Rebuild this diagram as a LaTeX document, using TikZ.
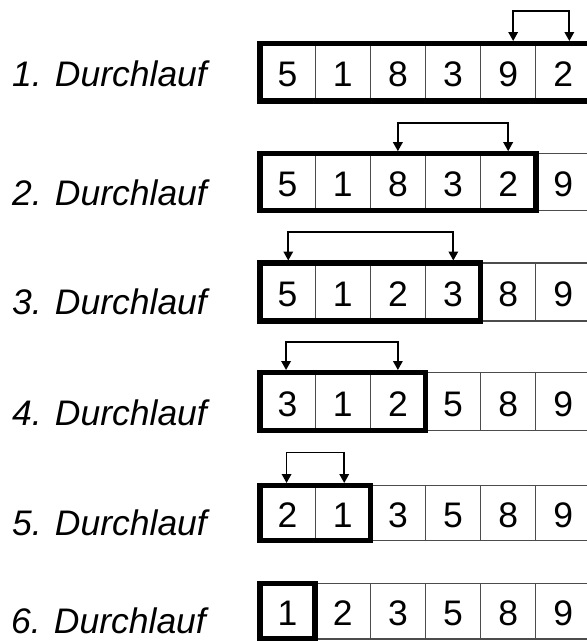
\documentclass[tikz,border=0pt]{standalone}
\usepackage{fontspec}
\setmainfont{Liberation Sans}
\usetikzlibrary{arrows.meta}
\begin{document}
\begin{tikzpicture}[x=1pt,y=-1pt,
  cell/.style={draw=black!70, line width=1.2pt, minimum width=55.15pt, inner sep=0pt, outer sep=0pt,
    text height=29.4pt, text depth=0pt, font=\fontsize{35.5}{40}\selectfont},
  boldbox/.style={draw=black, line width=5.5pt, line join=miter},
  lbl/.style={anchor=base west, inner sep=0pt, font=\fontsize{35.5}{40}\selectfont\itshape},
  swap/.style={line width=1.7pt, {Triangle[width=9.5pt,length=9pt]}-{Triangle[width=9.5pt,length=9pt]},
    shorten <=2.5pt, shorten >=2.5pt}
]
\useasboundingbox (0,0) rectangle (587,641);
% labels
\node[lbl] (l1) at (12,86.7) {1. Durchlauf};
\node[lbl] (l2) at (12,205) {2. Durchlauf};
\node[lbl] (l3) at (12,314) {3. Durchlauf};
\node[lbl] (l4) at (12,425) {4. Durchlauf};
\node[lbl] (l5) at (12,535) {5. Durchlauf};
\node[lbl] (l6) at (11,633) {6. Durchlauf};
% cells
\foreach \v [count=\i] in {5,1,8,3,9,2}
  \node[cell, minimum height=57.5pt] (r1c\i) at (260+55.15*\i-27.575, 72.25) {\v};
\foreach \v [count=\i] in {5,1,8,3,2,9}
  \node[cell, minimum height=56.8pt] (r2c\i) at (260+55.15*\i-27.575, 182.1) {\v};
\foreach \v [count=\i] in {5,1,2,3,8,9}
  \node[cell, minimum height=58pt] (r3c\i) at (260+55.15*\i-27.575, 292) {\v};
\foreach \v [count=\i] in {3,1,2,5,8,9}
  \node[cell, minimum height=58pt] (r4c\i) at (260+55.15*\i-27.575, 401.5) {\v};
\foreach \v [count=\i] in {2,1,3,5,8,9}
  \node[cell, minimum height=55pt] (r5c\i) at (260+55.15*\i-27.575, 513) {\v};
\foreach \v [count=\i] in {1,2,3,5,8,9}
  \node[cell, minimum height=55.5pt] (r6c\i) at (260+55.15*\i-27.575, 611.25) {\v};
% bold boxes (unsorted part)
\draw[boldbox] (r1c1.north west) rectangle (r1c6.south east);
\draw[boldbox] (r2c1.north west) rectangle (r2c5.south east);
\draw[boldbox] (r3c1.north west) rectangle (r3c4.south east);
\draw[boldbox] (r4c1.north west) rectangle (r4c3.south east);
\draw[boldbox] (r5c1.north west) rectangle (r5c2.south east);
\draw[boldbox] (r6c1.north west) rectangle (r6c1.south east);
% swap arrows
\draw[swap] ([xshift=5pt]r1c5.north) -- ++(0,-32.5) -| ([xshift=6pt]r1c6.north);
\draw[swap] (r2c3.north) -- ++(0,-31) -| (r2c5.north);
\draw[swap] ([xshift=0.7pt]r3c1.north) -- ++(0,-31.3) -| ([xshift=0.3pt]r3c4.north);
\draw[swap] ([xshift=-1.5pt]r4c1.north) -- ++(0,-30.2) -| (r4c3.north);
\draw[swap] ([xshift=-1pt]r5c1.north) -- ++(0,-33) -| ([xshift=1.5pt]r5c2.north);
\end{tikzpicture}
\end{document}
